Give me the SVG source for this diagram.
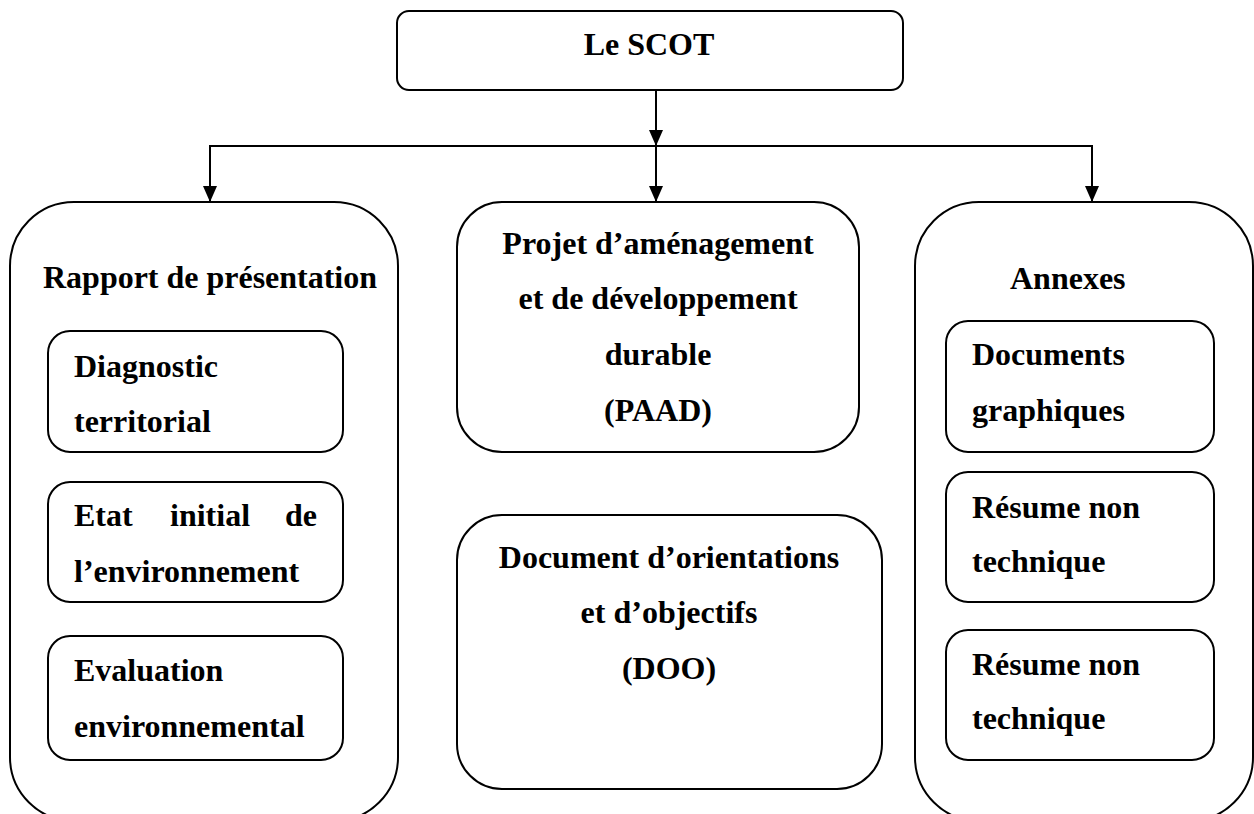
<svg xmlns="http://www.w3.org/2000/svg" width="1254" height="814" viewBox="0 0 1254 814">
<defs>
<style>
.box{fill:#fff;stroke:#000;stroke-width:2}
.t{font-family:"Liberation Serif","Times New Roman",serif;font-weight:bold;font-size:32px;fill:#000}
.c{text-anchor:middle}
.ln{stroke:#000;stroke-width:2;fill:none}
</style>
<marker id="ah" markerWidth="16" markerHeight="14" refX="16" refY="7" orient="auto" markerUnits="userSpaceOnUse" viewBox="0 0 16 14">
<path d="M0,0 L16,7 L0,14 Z" fill="#000"/>
</marker>
</defs>
<g id="connectors">
<line class="ln" x1="656" y1="90" x2="656" y2="146" marker-end="url(#ah)"/>
<line class="ln" x1="209" y1="146" x2="1093" y2="146"/>
<line class="ln" x1="210" y1="146" x2="210" y2="202" marker-end="url(#ah)"/>
<line class="ln" x1="656" y1="146" x2="656" y2="202" marker-end="url(#ah)"/>
<line class="ln" x1="1092" y1="146" x2="1092" y2="202" marker-end="url(#ah)"/>
</g>
<g id="scot">
<rect class="box" x="397" y="11" width="506" height="79" rx="12"/>
<text class="t c" x="649" y="55">Le SCOT</text>
</g>
<g id="rapport">
<rect class="box" x="10" y="202" width="388" height="619" rx="64"/>
<text class="t" x="43" y="288" textLength="334">Rapport de présentation</text>
</g>
<g id="diagnostic">
<rect class="box" x="48" y="331" width="295" height="121" rx="22"/>
<text class="t" x="74" y="377">Diagnostic</text>
<text class="t" x="74" y="432">territorial</text>
</g>
<g id="etat">
<rect class="box" x="48" y="482" width="295" height="120" rx="22"/>
<text class="t" x="74" y="526">Etat</text>
<text class="t" x="170" y="526">initial</text>
<text class="t" x="317" y="526" text-anchor="end">de</text>
<text class="t" x="74" y="582">l’environnement</text>
</g>
<g id="evaluation">
<rect class="box" x="48" y="636" width="295" height="124" rx="22"/>
<text class="t" x="74" y="681">Evaluation</text>
<text class="t" x="74" y="737">environnemental</text>
</g>
<g id="paad">
<rect class="box" x="457" y="202" width="402" height="250" rx="45"/>
<text class="t c" x="658" y="254">Projet d’aménagement</text>
<text class="t c" x="658" y="309">et de développement</text>
<text class="t c" x="658" y="365">durable</text>
<text class="t c" x="658" y="421">(PAAD)</text>
</g>
<g id="doo">
<rect class="box" x="457" y="515" width="425" height="274" rx="45"/>
<text class="t c" x="669" y="568">Document d’orientations</text>
<text class="t c" x="669" y="623">et d’objectifs</text>
<text class="t c" x="669" y="679">(DOO)</text>
</g>
<g id="annexes">
<rect class="box" x="915" y="202" width="338" height="619" rx="64"/>
<text class="t" x="1010" y="289">Annexes</text>
</g>
<g id="documents">
<rect class="box" x="946" y="321" width="268" height="131" rx="22"/>
<text class="t" x="972" y="365">Documents</text>
<text class="t" x="972" y="421">graphiques</text>
</g>
<g id="resume1">
<rect class="box" x="946" y="472" width="268" height="130" rx="22"/>
<text class="t" x="972" y="518">Résume non</text>
<text class="t" x="972" y="572">technique</text>
</g>
<g id="resume2">
<rect class="box" x="946" y="630" width="268" height="130" rx="22"/>
<text class="t" x="972" y="675">Résume non</text>
<text class="t" x="972" y="729">technique</text>
</g>
</svg>
